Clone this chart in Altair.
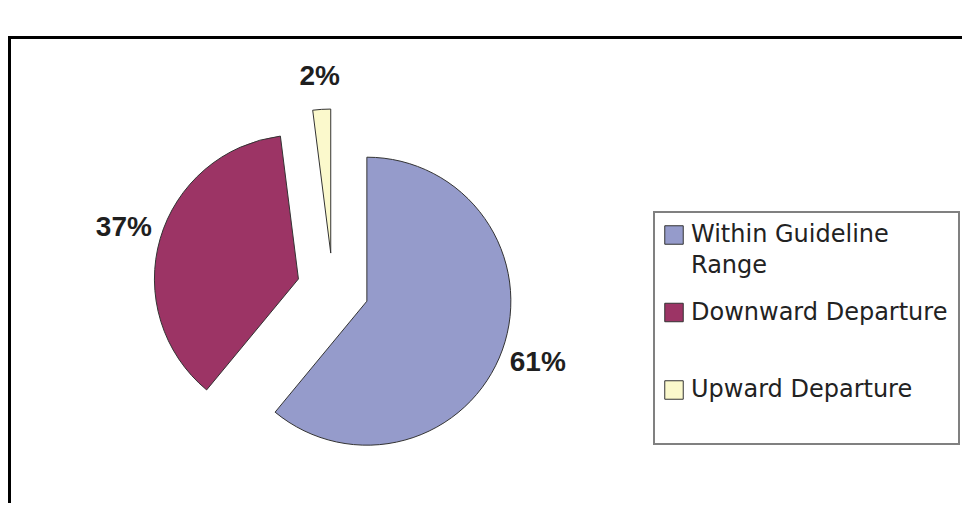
import altair as alt
import pandas as pd

# ---- data ----
categories = ["Within Guideline Range", "Downward Departure", "Upward Departure"]
shares = [61, 37, 2]
colors = ["#959BCB", "#9C3465", "#FBF9CC"]

df = pd.DataFrame({"category": categories, "share": shares,
                   "order": list(range(len(categories)))})

# layout constants (pixels inside the view)
W, H = 954, 495
CX, CY = 325, 281      # pie centre before exploding
R = 144                # pie radius
D = 36                 # explode distance

base = (
    alt.Chart(df)
    .transform_window(cum="sum(share)", sort=[alt.SortField("order")], frame=[None, 0])
    .transform_joinaggregate(total="sum(share)")
    .transform_calculate(a0="(datum.cum - datum.share) / datum.total * 2 * PI")
    .transform_calculate(a1="datum.cum / datum.total * 2 * PI")
    .transform_calculate(mid="(datum.a0 + datum.a1) / 2")
    .transform_calculate(cx=f"{CX} + {D} * sin(datum.mid)")
    .transform_calculate(cy=f"{CY} - {D} * cos(datum.mid)")
    # label sits just outside the rim; wider text pushes it a bit further out sideways
    .transform_calculate(rl="176 + 6 * abs(sin(datum.mid))")
    .transform_calculate(lx="datum.cx + datum.rl * sin(datum.mid)")
    .transform_calculate(ly="datum.cy - datum.rl * cos(datum.mid)")
    .transform_calculate(label="datum.share + '%'")
)

legend = alt.Legend(
    title=None, orient="none", legendX=646, legendY=204,
    symbolType="square", symbolSize=342, symbolOffset=-3,
    symbolStrokeColor="#333333", symbolStrokeWidth=1,
    labelFont="DejaVu Sans", labelFontSize=24, labelColor="#222222",
    labelExpr="datum.label == 'Within Guideline Range' ? ['Within Guideline', 'Range'] : [datum.label, '']",
    labelOffset=5, labelLimit=400, rowPadding=22.5, padding=11,
    strokeColor="#808080",
)

arcs = base.mark_arc(outerRadius=R, stroke="#333333", strokeWidth=1).encode(
    theta=alt.Theta("a0:Q", scale=None, stack=None),
    theta2=alt.Theta2("a1"),
    x=alt.X("cx:Q", scale=None),
    y=alt.Y("cy:Q", scale=None),
    color=alt.Color("category:N",
                    scale=alt.Scale(domain=categories, range=colors),
                    legend=legend),
)

labels = base.mark_text(font="Liberation Sans", fontSize=28, fontWeight="bold",
                        color="#1f1f1f", align="center", baseline="middle").encode(
    x=alt.X("lx:Q", scale=None),
    y=alt.Y("ly:Q", scale=None),
    text="label:N",
)

one = pd.DataFrame({"k": [0]})
top_rule = alt.Chart(one).mark_rule(color="black", strokeWidth=3).encode(
    x=alt.value(0), x2=alt.value(W), y=alt.value(29.5))
left_rule = alt.Chart(one).mark_rule(color="black", strokeWidth=3).encode(
    x=alt.value(1.5), y=alt.value(28), y2=alt.value(H))

chart = (
    alt.layer(top_rule, left_rule, arcs, labels)
    .properties(width=W, height=H, padding=0, autosize=alt.AutoSizeParams(type="none"),
                background="white")
    .configure(style={"guide-label": {"lineHeight": 31}})
    .configure_view(stroke=None)
    .configure_legend(strokeWidth=2)
)

chart.save("out.html", embed_options={"renderer": "svg", "actions": False})
